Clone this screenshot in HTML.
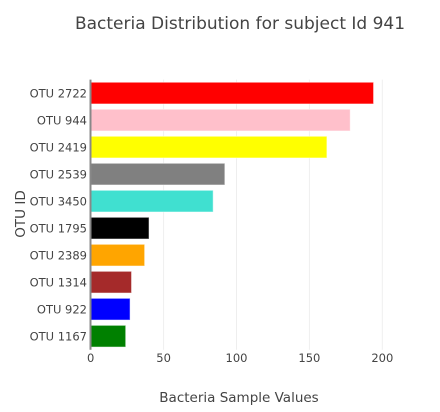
<!DOCTYPE html>
<html><head><meta charset="utf-8"><style>
body{margin:0;background:#fff;font-family:"DejaVu Sans",sans-serif}
svg text{font-family:"DejaVu Sans",sans-serif;fill:#444}
</style></head><body>
<svg width="440" height="408">
<text x="240" y="29" font-size="17" text-anchor="middle">Bacteria Distribution for subject Id 941</text>
<g id="grid"></g><g id="bars"></g><g id="ylab"></g><g id="xlab"></g>
<line x1="90.5" y1="79.6" x2="90.5" y2="349.7" stroke="#888" stroke-width="2"/>
<text x="239" y="402" font-size="13.5" text-anchor="middle">Bacteria Sample Values</text>
<text transform="translate(25,214) rotate(-90)" font-size="13.5" text-anchor="middle">OTU ID</text>
</svg>
<script>
const categories=["OTU 2722","OTU 944","OTU 2419","OTU 2539","OTU 3450","OTU 1795","OTU 2389","OTU 1314","OTU 922","OTU 1167"];
const values=[194,178,162,92,84,40,37,28,27,24];
const colors=["red","pink","yellow","grey","turquoise","black","orange","brown","blue","green"];
const xTicks=[0,50,100,150,200];
const NS="http://www.w3.org/2000/svg";
const x0=90.7,sc=1.458,top0=79.6,step=27.01,bh=21.7;
const X=v=>x0+v*sc, Y=i=>top0+i*step+(step-bh)/2;
function mk(t,a,p){const e=document.createElementNS(NS,t);for(const k in a)e.setAttribute(k,a[k]);p.appendChild(e);return e;}
const g=document.getElementById('grid'),b=document.getElementById('bars'),yl=document.getElementById('ylab'),xl=document.getElementById('xlab');
xTicks.forEach(t=>{
 if(t>0){const l=mk('line',{x1:X(t),x2:X(t),y1:top0,y2:349.7,stroke:'#eee'},g);
 
 }
 const tx=mk('text',{x:X(t),y:362,'font-size':11.5,'text-anchor':'middle'},xl);tx.textContent=t;
 
 
});
categories.forEach((c,i)=>{
 const r=mk('rect',{x:x0,y:Y(i),width:values[i]*sc,height:bh,fill:colors[i],stroke:'rgba(255,255,255,0.5)','stroke-width':1},b);
 
 
 const t=mk('text',{x:87,y:Y(i)+bh/2+4.5,'font-size':11.5,'text-anchor':'end'},yl);t.textContent=c;
 
 
});
</script>
</body></html>
